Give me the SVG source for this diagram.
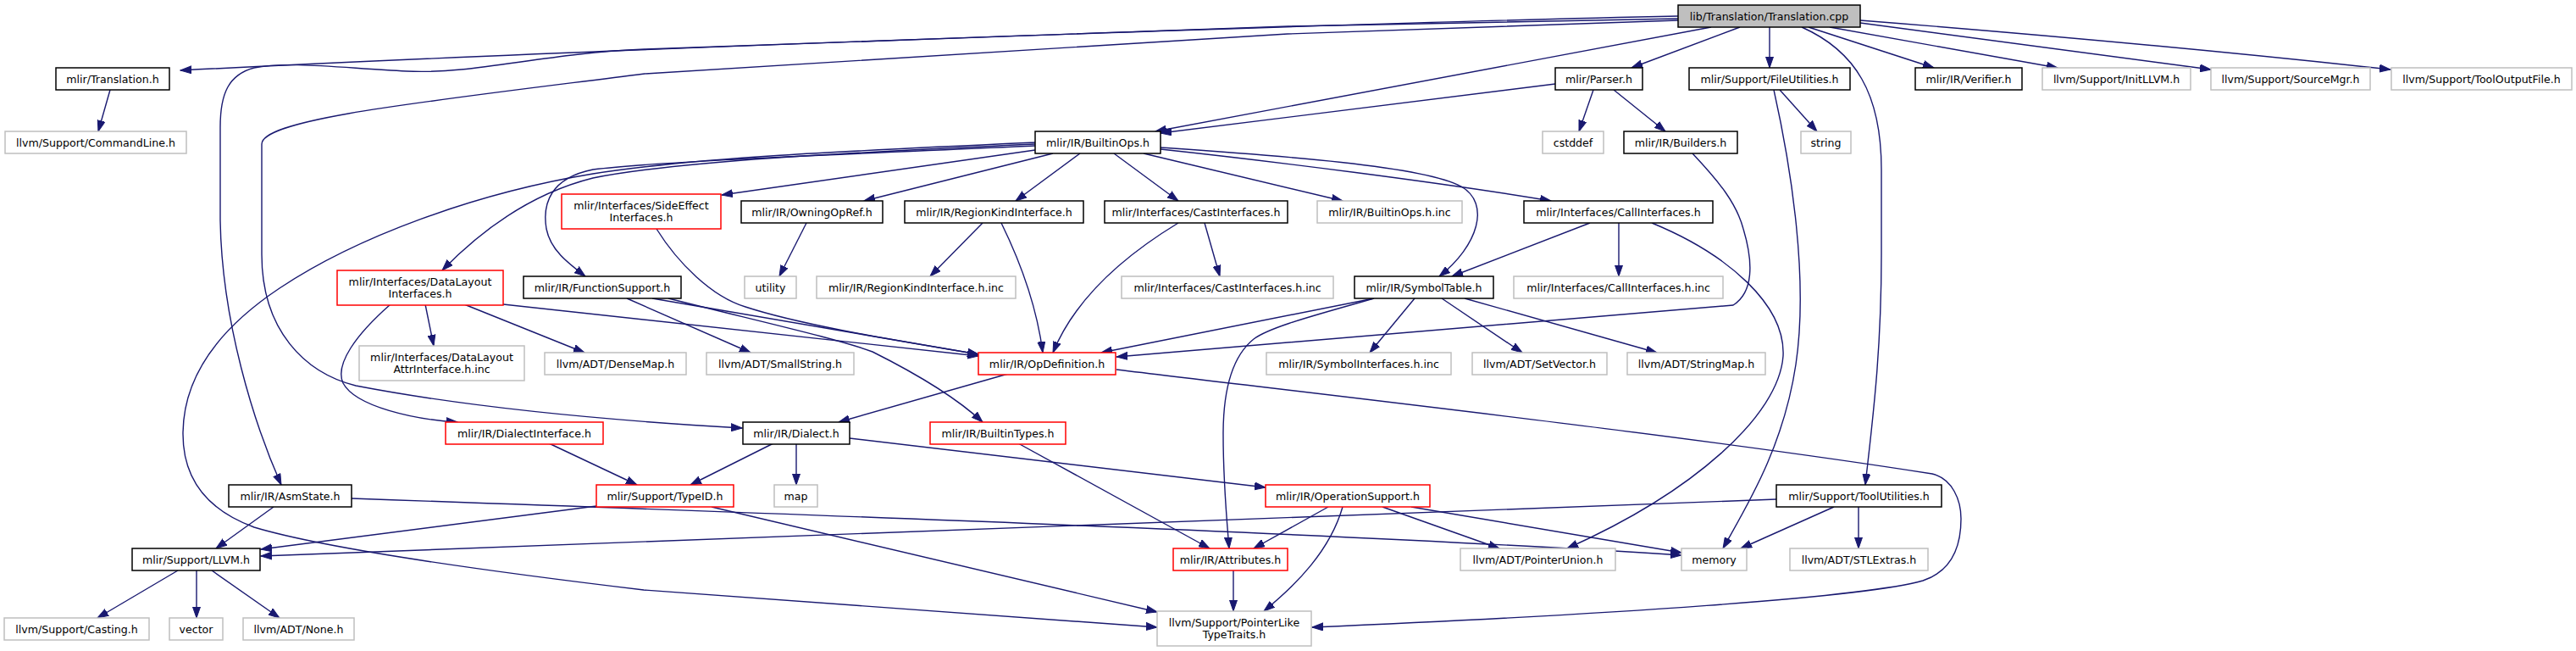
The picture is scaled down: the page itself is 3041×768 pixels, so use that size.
<svg xmlns="http://www.w3.org/2000/svg" width="3041" height="768" viewBox="0 0 3041 768">
<style>
rect{stroke-width:1.5}
.b{fill:#fff;stroke:#000}
.g{fill:#fff;stroke:#bfbfbf}
.r{fill:#fff;stroke:#ff0000}
.root{fill:#bfbfbf;stroke:#000}
text{font-family:"DejaVu Sans","Liberation Sans",sans-serif;font-size:12.6px;fill:#000;text-anchor:middle}
#edges path{fill:none;stroke:#191970;stroke-width:1.4;marker-end:url(#ah)}
</style>
<defs>
<marker id="ah" markerUnits="userSpaceOnUse" markerWidth="14" markerHeight="10" refX="13" refY="5" orient="auto" viewBox="0 0 14 10">
<path d="M0,0.5 L13,5 L0,9.5 z" fill="#191970" stroke="#191970" stroke-width="1"/>
</marker>
</defs>
<rect width="3041" height="768" fill="#fff"/>
<g id="edges">
<path d="M1981,19 C1600,27 700,58 213,83"/>
<path d="M1981,22 L1521,31 L761,58 C640,63 560,88 480,84 C400,80 340,72 300,80 C270,88 260,110 260,150 L260,260 C262,380 300,500 332,572"/>
<path d="M1981,24 L1520,40 L761,87 C500,120 309,140 309,170 L309,300 C309,390 360,440 420,455 C550,480 700,495 876,505"/>
<path d="M2020,32 L1364,155"/>
<path d="M1836,99 L1370,157"/>
<path d="M2054,32 L1926,80"/>
<path d="M2089,32 L2089,80"/>
<path d="M2135,32 L2283,80"/>
<path d="M2160,32 L2429,80"/>
<path d="M2196,27 C2300,41 2450,62 2610,82"/>
<path d="M2196,24 C2400,40 2600,58 2822,82"/>
<path d="M2127,32 C2190,60 2221,110 2221,200 L2221,300 C2221,420 2210,500 2202,572"/>
<path d="M130,106 L116,155"/>
<path d="M1881,106 L1864,155"/>
<path d="M1905,106 L1966,155"/>
<path d="M2101,106 L2145,155"/>
<path d="M2094,106 C2115,200 2135,330 2120,430 C2105,530 2060,600 2034,647"/>
<path d="M1998,181 C2030,215 2050,240 2058,270 C2070,310 2070,345 2046,360 L1318,421"/>
<path d="M1222,168 C1000,178 820,186 700,205 C560,228 420,280 330,340 C240,400 216,460 216,512 C216,560 240,600 300,622 C360,640 500,665 760,696 L1366,740"/>
<path d="M1222,170 C1000,180 800,190 700,210 C620,230 560,280 522,319"/>
<path d="M1222,172 C1000,182 780,190 700,200 C650,210 640,240 645,270 C650,295 670,310 691,326"/>
<path d="M1222,177 L852,230"/>
<path d="M1243,181 L1020,237"/>
<path d="M1275,181 L1199,237"/>
<path d="M1315,181 L1391,237"/>
<path d="M1350,181 L1585,237"/>
<path d="M1370,174 C1500,183 1680,195 1725,220 C1760,240 1745,290 1699,326"/>
<path d="M1370,176 C1500,190 1700,215 1831,237"/>
<path d="M775,270 C800,310 840,350 880,362 C950,385 1080,405 1155,418"/>
<path d="M952,263 L920,326"/>
<path d="M1160,263 L1098,326"/>
<path d="M1182,263 C1210,320 1225,370 1231,416"/>
<path d="M1422,263 L1440,326"/>
<path d="M1391,263 C1330,300 1270,350 1243,416"/>
<path d="M1877,263 L1714,326"/>
<path d="M1911,263 L1911,326"/>
<path d="M1950,263 C2040,300 2108,360 2105,420 C2100,490 2000,580 1850,647"/>
<path d="M1622,352 L1300,416"/>
<path d="M1622,352 C1560,370 1500,385 1480,400 C1455,420 1444,460 1444,512 C1444,570 1448,610 1451,647"/>
<path d="M1670,352 L1617,416"/>
<path d="M1702,352 L1797,416"/>
<path d="M1729,352 L1956,416"/>
<path d="M1190,441 L990,498"/>
<path d="M1318,436 C1600,470 2000,515 2281,559 C2305,565 2315,590 2315,612 C2315,650 2300,675 2270,685 C2200,705 1900,725 1549,740"/>
<path d="M594,359 L1155,420"/>
<path d="M502,359 L512,408"/>
<path d="M548,359 L690,416"/>
<path d="M461,359 C420,395 395,430 405,452 C420,480 490,495 540,498"/>
<path d="M770,352 L1155,418"/>
<path d="M740,352 L886,416"/>
<path d="M789,352 C900,380 990,400 1030,415 C1080,440 1130,470 1160,498"/>
<path d="M913,523 L815,572"/>
<path d="M940,523 L940,572"/>
<path d="M1003,517 L1494,575"/>
<path d="M648,523 L752,572"/>
<path d="M1202,523 L1428,647"/>
<path d="M704,597 L308,648"/>
<path d="M840,598 L1366,722"/>
<path d="M323,598 L255,647"/>
<path d="M415,588 C900,605 1600,630 1985,655"/>
<path d="M1568,598 L1480,647"/>
<path d="M1585,598 C1570,650 1530,690 1492,721"/>
<path d="M1632,598 L1770,647"/>
<path d="M1666,598 L1985,652"/>
<path d="M2097,589 L308,656"/>
<path d="M2165,598 L2055,647"/>
<path d="M2194,598 L2194,647"/>
<path d="M210,673 L115,729"/>
<path d="M232,673 L232,729"/>
<path d="M250,673 L330,729"/>
<path d="M1456,673 L1456,721"/>
</g>
<g id="n1"><rect class="root" x="1981" y="6" width="215" height="26"/><text x="2088.5" y="23.5">lib/Translation/Translation.cpp</text></g>
<g id="n2"><rect class="b" x="66" y="80" width="134" height="26"/><text x="133" y="97.5">mlir/Translation.h</text></g>
<g id="n3"><rect class="g" x="6" y="155" width="214" height="26"/><text x="113" y="172.5">llvm/Support/CommandLine.h</text></g>
<g id="n4"><rect class="b" x="1836" y="80" width="103" height="26"/><text x="1887.5" y="97.5">mlir/Parser.h</text></g>
<g id="n5"><rect class="b" x="1994" y="80" width="190" height="26"/><text x="2089" y="97.5">mlir/Support/FileUtilities.h</text></g>
<g id="n6"><rect class="b" x="2261" y="80" width="126" height="26"/><text x="2324" y="97.5">mlir/IR/Verifier.h</text></g>
<g id="n7"><rect class="g" x="2411" y="80" width="175" height="26"/><text x="2498.5" y="97.5">llvm/Support/InitLLVM.h</text></g>
<g id="n8"><rect class="g" x="2610" y="80" width="188" height="26"/><text x="2704" y="97.5">llvm/Support/SourceMgr.h</text></g>
<g id="n9"><rect class="g" x="2823" y="80" width="213" height="26"/><text x="2929.5" y="97.5">llvm/Support/ToolOutputFile.h</text></g>
<g id="n10"><rect class="b" x="1222" y="155" width="148" height="26"/><text x="1296" y="172.5">mlir/IR/BuiltinOps.h</text></g>
<g id="n11"><rect class="g" x="1821" y="155" width="72" height="26"/><text x="1857" y="172.5">cstddef</text></g>
<g id="n12"><rect class="b" x="1917" y="155" width="134" height="26"/><text x="1984" y="172.5">mlir/IR/Builders.h</text></g>
<g id="n13"><rect class="g" x="2126" y="155" width="59" height="26"/><text x="2155.5" y="172.5">string</text></g>
<g id="n14"><rect class="r" x="663" y="229" width="188" height="41"/><text x="757" y="246.9">mlir/Interfaces/SideEffect</text><text x="757" y="261.2">Interfaces.h</text></g>
<g id="n15"><rect class="b" x="875" y="237" width="167" height="26"/><text x="958.5" y="254.5">mlir/IR/OwningOpRef.h</text></g>
<g id="n16"><rect class="b" x="1068" y="237" width="211" height="26"/><text x="1173.5" y="254.5">mlir/IR/RegionKindInterface.h</text></g>
<g id="n17"><rect class="b" x="1304" y="237" width="216" height="26"/><text x="1412" y="254.5">mlir/Interfaces/CastInterfaces.h</text></g>
<g id="n18"><rect class="g" x="1555" y="237" width="171" height="26"/><text x="1640.5" y="254.5">mlir/IR/BuiltinOps.h.inc</text></g>
<g id="n19"><rect class="b" x="1799" y="237" width="223" height="26"/><text x="1910.5" y="254.5">mlir/Interfaces/CallInterfaces.h</text></g>
<g id="n20"><rect class="r" x="398" y="319" width="196" height="41"/><text x="496" y="336.9">mlir/Interfaces/DataLayout</text><text x="496" y="351.2">Interfaces.h</text></g>
<g id="n21"><rect class="b" x="618" y="326" width="186" height="26"/><text x="711" y="343.5">mlir/IR/FunctionSupport.h</text></g>
<g id="n22"><rect class="g" x="879" y="326" width="61" height="26"/><text x="909.5" y="343.5">utility</text></g>
<g id="n23"><rect class="g" x="964" y="326" width="235" height="26"/><text x="1081.5" y="343.5">mlir/IR/RegionKindInterface.h.inc</text></g>
<g id="n24"><rect class="g" x="1324" y="326" width="250" height="26"/><text x="1449" y="343.5">mlir/Interfaces/CastInterfaces.h.inc</text></g>
<g id="n25"><rect class="b" x="1599" y="326" width="164" height="26"/><text x="1681" y="343.5">mlir/IR/SymbolTable.h</text></g>
<g id="n26"><rect class="g" x="1787" y="326" width="247" height="26"/><text x="1910.5" y="343.5">mlir/Interfaces/CallInterfaces.h.inc</text></g>
<g id="n27"><rect class="g" x="424" y="408" width="195" height="41"/><text x="521.5" y="425.9">mlir/Interfaces/DataLayout</text><text x="521.5" y="440.2">AttrInterface.h.inc</text></g>
<g id="n28"><rect class="g" x="643" y="416" width="167" height="26"/><text x="726.5" y="433.5">llvm/ADT/DenseMap.h</text></g>
<g id="n29"><rect class="g" x="834" y="416" width="174" height="26"/><text x="921" y="433.5">llvm/ADT/SmallString.h</text></g>
<g id="n30"><rect class="r" x="1155" y="416" width="162" height="26"/><text x="1236" y="433.5">mlir/IR/OpDefinition.h</text></g>
<g id="n31"><rect class="g" x="1495" y="416" width="218" height="26"/><text x="1604" y="433.5">mlir/IR/SymbolInterfaces.h.inc</text></g>
<g id="n32"><rect class="g" x="1738" y="416" width="159" height="26"/><text x="1817.5" y="433.5">llvm/ADT/SetVector.h</text></g>
<g id="n33"><rect class="g" x="1921" y="416" width="163" height="26"/><text x="2002.5" y="433.5">llvm/ADT/StringMap.h</text></g>
<g id="n34"><rect class="r" x="526" y="498" width="186" height="26"/><text x="619" y="515.5">mlir/IR/DialectInterface.h</text></g>
<g id="n35"><rect class="b" x="877" y="498" width="126" height="26"/><text x="940" y="515.5">mlir/IR/Dialect.h</text></g>
<g id="n36"><rect class="r" x="1098" y="498" width="160" height="26"/><text x="1178" y="515.5">mlir/IR/BuiltinTypes.h</text></g>
<g id="n37"><rect class="b" x="270" y="572" width="145" height="26"/><text x="342.5" y="589.5">mlir/IR/AsmState.h</text></g>
<g id="n38"><rect class="r" x="704" y="572" width="162" height="26"/><text x="785" y="589.5">mlir/Support/TypeID.h</text></g>
<g id="n39"><rect class="g" x="914" y="572" width="51" height="26"/><text x="939.5" y="589.5">map</text></g>
<g id="n40"><rect class="r" x="1494" y="572" width="194" height="26"/><text x="1591" y="589.5">mlir/IR/OperationSupport.h</text></g>
<g id="n41"><rect class="b" x="2097" y="572" width="195" height="26"/><text x="2194.5" y="589.5">mlir/Support/ToolUtilities.h</text></g>
<g id="n42"><rect class="b" x="156" y="647" width="151" height="26"/><text x="231.5" y="664.5">mlir/Support/LLVM.h</text></g>
<g id="n43"><rect class="r" x="1385" y="647" width="135" height="26"/><text x="1452.5" y="664.5">mlir/IR/Attributes.h</text></g>
<g id="n44"><rect class="g" x="1724" y="647" width="183" height="26"/><text x="1815.5" y="664.5">llvm/ADT/PointerUnion.h</text></g>
<g id="n45"><rect class="g" x="1985" y="647" width="77" height="26"/><text x="2023.5" y="664.5">memory</text></g>
<g id="n46"><rect class="g" x="2113" y="647" width="163" height="26"/><text x="2194.5" y="664.5">llvm/ADT/STLExtras.h</text></g>
<g id="n47"><rect class="g" x="5" y="729" width="171" height="26"/><text x="90.5" y="746.5">llvm/Support/Casting.h</text></g>
<g id="n48"><rect class="g" x="200" y="729" width="63" height="26"/><text x="231.5" y="746.5">vector</text></g>
<g id="n49"><rect class="g" x="287" y="729" width="131" height="26"/><text x="352.5" y="746.5">llvm/ADT/None.h</text></g>
<g id="n50"><rect class="g" x="1366" y="721" width="182" height="41"/><text x="1457" y="738.9">llvm/Support/PointerLike</text><text x="1457" y="753.2">TypeTraits.h</text></g>
</svg>
